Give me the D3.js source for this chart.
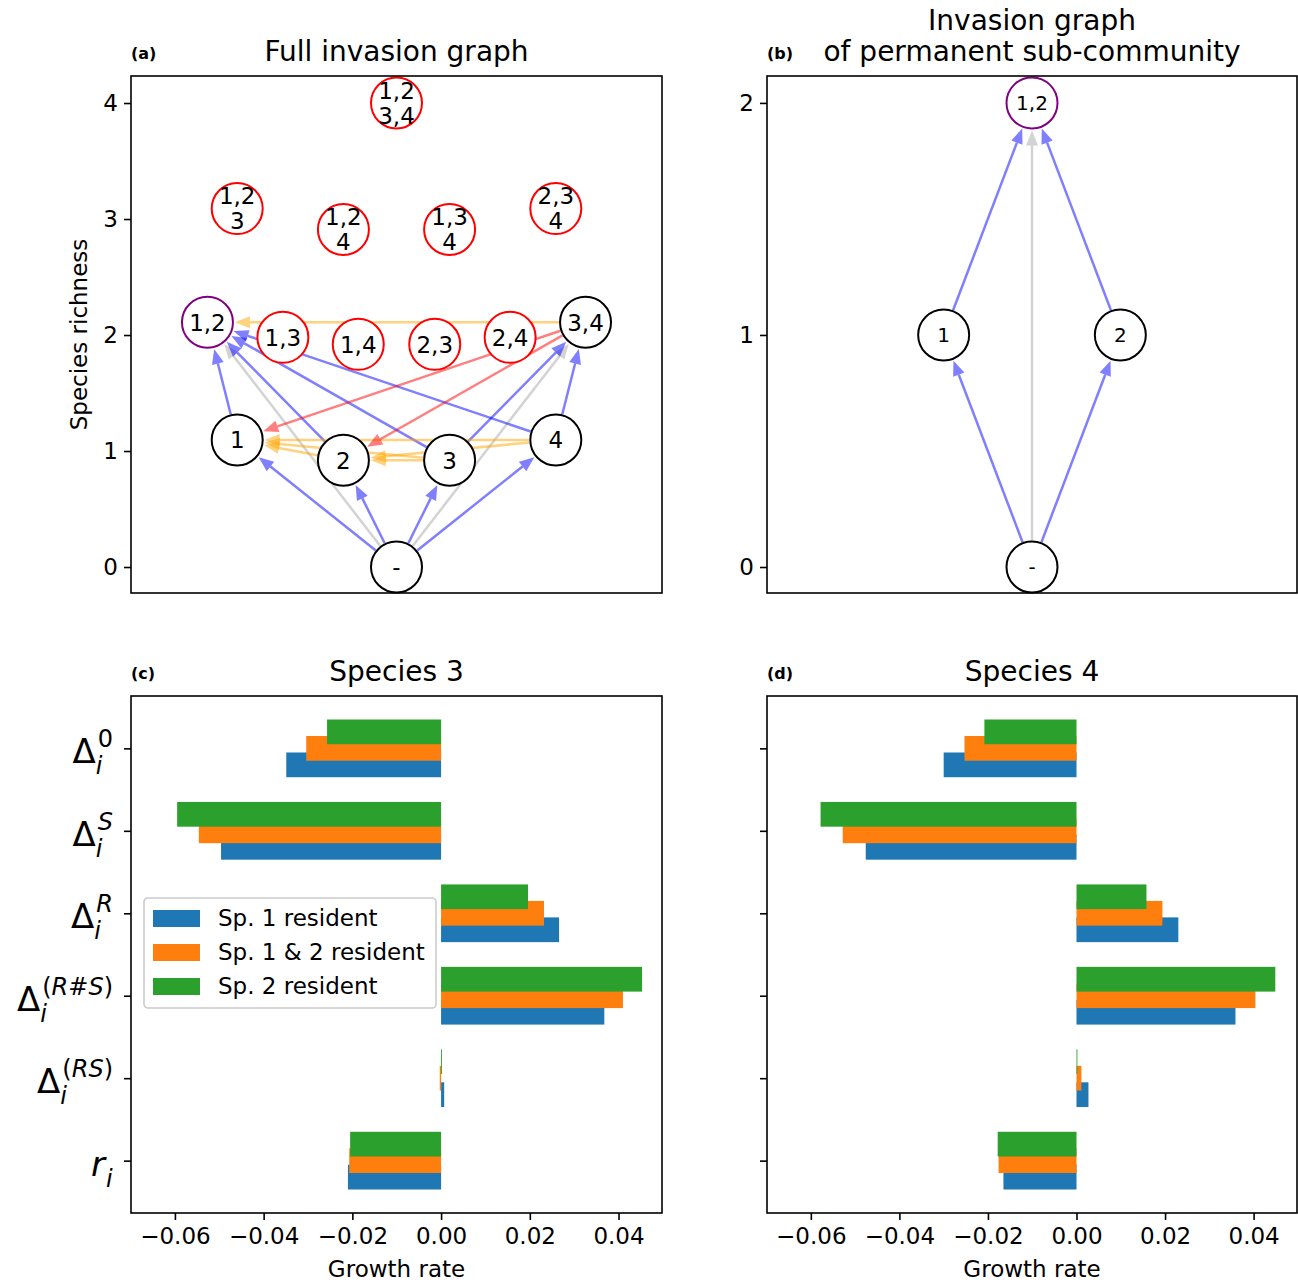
<!DOCTYPE html>
<html lang="en">
<head>
<meta charset="utf-8">
<title>Invasion graphs</title>
<script src="https://d3js.org/d3.v7.min.js"></script>
<style>
  body { margin: 0; background: #fff; }
  svg { display: block; font-family: "DejaVu Sans", sans-serif; }
</style>
</head>
<body>
<script>
'use strict';

// ---- panel (a): full invasion graph ----
var fullNodes = ["-", "1", "2", "3", "4", "12", "13", "14", "23", "24", "34", "123", "124", "134", "234", "1234"];
var fullLabels = ["-", "1", "2", "3", "4", "1,2", "1,3", "1,4", "2,3", "2,4", "3,4",
                  "1,2\n3", "1,2\n4", "1,3\n4", "2,3\n4", "1,2\n3,4"];
var fullLayoutX = [0, -1.5, -0.5, 0.5, 1.5, -1.78, -1.07, -0.36, 0.36, 1.07, 1.78, -1.5, -0.5, 0.5, 1.5, 0];
var fullRichness = [0, 1.095, 0.92, 0.92, 1.095, 2.11, 1.98, 1.92, 1.92, 1.98, 2.11, 3.09, 2.91, 2.91, 3.09, 4];
// c = reachable community, p = permanent, u = not feasible/unstable
var fullKind = ["c", "c", "c", "c", "c", "p", "u", "u", "u", "u", "c", "u", "u", "u", "u", "u"];

var fullEdgesGray = [["-", "12"], ["-", "34"]];
var fullEdgesBlue = [["-", "1"], ["-", "2"], ["-", "3"], ["-", "4"],
                     ["1", "12"], ["2", "12"], ["3", "12"], ["4", "12"],
                     ["3", "34"], ["4", "34"]];
var fullEdgesOrange = [["34", "12"], ["2", "1"], ["3", "1"], ["4", "1"], ["3", "2"], ["4", "2"]];
var fullEdgesRed = [["34", "1"], ["34", "2"]];

// ---- panel (b): permanent sub-community ----
var subNodes = ["-", "1", "2", "12"];
var subLabels = ["-", "1", "2", "1,2"];
var subLayoutX = [0, -0.5, 0.5, 0];
var subRichness = [0, 1, 1, 2];
var subKind = ["c", "c", "c", "p"];
var subEdgesGray = [["-", "12"]];
var subEdgesBlue = [["-", "1"], ["-", "2"], ["1", "12"], ["2", "12"]];

// ---- panels (c), (d): growth rate decomposition ----
var termBase = ["\u0394", "\u0394", "\u0394", "\u0394", "\u0394", "r"];
var termSup = ["0", "S", "R", "(R#S)", "(RS)", ""];
var seriesNames = ["Sp. 1 resident", "Sp. 1 & 2 resident", "Sp. 2 resident"];
var seriesColors = ["#1f77b4", "#ff7f0e", "#2ca02c"];

var sp3_res1 = [-0.0349, -0.0496, 0.0266, 0.0368, 0.0007, -0.0210];
var sp3_res12 = [-0.0304, -0.0546, 0.0232, 0.0410, -0.0003, -0.0207];
var sp3_res2 = [-0.0257, -0.0595, 0.0196, 0.0453, 0.0002, -0.0205];

var sp4_res1 = [-0.0300, -0.0476, 0.0230, 0.0359, 0.0027, -0.0165];
var sp4_res12 = [-0.0253, -0.0528, 0.0194, 0.0404, 0.0011, -0.0176];
var sp4_res2 = [-0.0208, -0.0578, 0.0158, 0.0449, 0.0002, -0.0178];

var growthTicks = [-0.06, -0.04, -0.02, 0, 0.02, 0.04];

var w = 1298, h = 1282;
var fs = 23;        // base font size
var svg = d3.select("body").append("svg").attr("width", w).attr("height", h);

var kindColor = {c: "black", p: "purple", u: "red"};
var edgeColor = {
    gray: "rgba(128,128,128,0.35)",
    blue: "rgba(0,0,255,0.5)",
    orange: "rgba(255,165,0,0.5)",
    red: "rgba(255,0,0,0.5)"
};

function styleAxis(g) {
    g.select(".domain").remove();
    g.selectAll(".tick line").attr("stroke", "black").attr("stroke-width", 1.6);
    g.selectAll(".tick text").attr("font-size", fs).attr("font-family", "DejaVu Sans").attr("fill", "black");
}

function frame(p) {
    svg.append("rect")
        .attr("x", p.x0).attr("y", p.y0)
        .attr("width", p.x1 - p.x0).attr("height", p.y1 - p.y0)
        .attr("fill", "none").attr("stroke", "black").attr("stroke-width", 1.6);
}

function titles(p, lines, tag) {
    var cx = (p.x0 + p.x1) / 2;
    lines.forEach(function(t, i) {
        svg.append("text")
            .attr("x", cx).attr("y", p.y0 - 15 - (lines.length - 1 - i) * 31)
            .attr("text-anchor", "middle").attr("font-size", 28)
            .text(t);
    });
    svg.append("text")
        .attr("x", p.x0).attr("y", p.y0 - 17)
        .attr("font-size", 16).attr("font-weight", "bold")
        .text(tag);
}

function drawGraph(p, ids, labels, lx, ry, kinds, edgeSets, xDom, yDom, ticks, nodeFs) {
    var x = d3.scaleLinear().domain(xDom).range([p.x0, p.x1]);
    var y = d3.scaleLinear().domain(yDom).range([p.y1, p.y0]);
    var r = 25.5;
    var pos = {};
    ids.forEach(function(id, i) { pos[id] = [x(lx[i]), y(ry[i])]; });

    var gEdges = svg.append("g");
    edgeSets.forEach(function(set) {
        var col = edgeColor[set.color];
        set.edges.forEach(function(e) {
            var s = pos[e[0]], t = pos[e[1]];
            var dx = t[0] - s[0], dy = t[1] - s[1];
            var len = Math.sqrt(dx * dx + dy * dy);
            var ux = dx / len, uy = dy / len;
            var headLen = 15, headW = 6;
            var sx = s[0] + ux * (r + 1), sy = s[1] + uy * (r + 1);
            var ex = t[0] - ux * (r + 2), ey = t[1] - uy * (r + 2);
            var bx = ex - ux * headLen, by = ey - uy * headLen;
            gEdges.append("line")
                .attr("x1", sx).attr("y1", sy).attr("x2", bx).attr("y2", by)
                .attr("stroke", col).attr("stroke-width", 2.5);
            gEdges.append("path")
                .attr("d", "M" + ex + "," + ey +
                    "L" + (bx - uy * headW) + "," + (by + ux * headW) +
                    "L" + (bx + uy * headW) + "," + (by - ux * headW) + "Z")
                .attr("fill", col);
        });
    });

    var gNodes = svg.append("g");
    ids.forEach(function(id, i) {
        var c = pos[id];
        gNodes.append("circle")
            .attr("cx", c[0]).attr("cy", c[1]).attr("r", r)
            .attr("fill", "white").attr("stroke", kindColor[kinds[i]]).attr("stroke-width", 2);
        var parts = labels[i].split("\n");
        parts.forEach(function(txt, k) {
            var off = (k - (parts.length - 1) / 2) * 25;
            gNodes.append("text")
                .attr("x", c[0]).attr("y", c[1] + off).attr("dy", "0.36em")
                .attr("text-anchor", "middle").attr("font-size", nodeFs)
                .text(txt);
        });
    });

    var ga = svg.append("g").attr("transform", "translate(" + p.x0 + ",0)")
        .call(d3.axisLeft(y).tickValues(ticks).tickFormat(d3.format("d")).tickSize(7).tickPadding(6));
    styleAxis(ga);
    frame(p);
}

function mathLabel(g, base, sup, yBase, right) {
    var grp = g.append("g");
    var tb = grp.append("text").attr("x", 0).attr("y", yBase)
        .attr("font-size", 34)
        .attr("font-style", base === "r" ? "italic" : "normal")
        .text(base);
    var wb = tb.node().getComputedTextLength();
    if (sup) {
        var ts = grp.append("text").attr("x", wb + 2).attr("y", yBase - 16).attr("font-size", 24);
        sup.split("").forEach(function(ch) {
            ts.append("tspan")
                .attr("font-style", /[A-Za-z]/.test(ch) ? "italic" : "normal")
                .text(ch);
        });
    }
    grp.append("text").attr("x", base === "r" ? wb + 1 : wb).attr("y", yBase + 11)
        .attr("font-size", 24).attr("font-style", "italic").text("i");
    var bb = grp.node().getBBox();
    grp.attr("transform", "translate(" + (right - (bb.x + bb.width)) + ",0)");
}

function drawBars(p, series, showLabels) {
    var x = d3.scaleLinear().domain([-0.0699, 0.0498]).range([p.x0, p.x1]);
    var y = d3.scaleLinear().domain([-0.635, 5.635]).range([p.y0, p.y1]);
    var offsets = [0.2, 0, -0.2];
    var barH = 0.3;
    series.forEach(function(vals, s) {
        svg.append("g").selectAll("rect")
            .data(vals)
            .enter()
            .append("rect")
            .attr("x", function(d) { return x(Math.min(0, d)); })
            .attr("y", function(d, i) { return y(i + offsets[s] - barH / 2); })
            .attr("width", function(d) { return Math.abs(x(d) - x(0)); })
            .attr("height", y(barH) - y(0))
            .attr("fill", seriesColors[s]);
    });

    var gx = svg.append("g").attr("transform", "translate(0," + p.y1 + ")")
        .call(d3.axisBottom(x).tickValues(growthTicks).tickFormat(d3.format(".2f")).tickSize(7).tickPadding(8));
    styleAxis(gx);
    svg.append("text")
        .attr("x", (p.x0 + p.x1) / 2).attr("y", p.y1 + 64)
        .attr("text-anchor", "middle").attr("font-size", fs)
        .text("Growth rate");

    var gy = svg.append("g").attr("transform", "translate(" + p.x0 + ",0)")
        .call(d3.axisLeft(y).tickValues(d3.range(termBase.length)).tickFormat("").tickSize(7));
    styleAxis(gy);
    if (showLabels) {
        var gl = svg.append("g");
        termBase.forEach(function(b, i) {
            mathLabel(gl, b, termSup[i], y(i) + 15, p.x0 - 18);
        });
    }
    frame(p);
}

var panelA = {x0: 131, x1: 662, y0: 76, y1: 593};
var panelB = {x0: 767, x1: 1297, y0: 76, y1: 593};
var panelC = {x0: 131, x1: 662, y0: 696, y1: 1213};
var panelD = {x0: 767, x1: 1297, y0: 696, y1: 1213};

drawGraph(panelA, fullNodes, fullLabels, fullLayoutX, fullRichness, fullKind, [
    {color: "gray", edges: fullEdgesGray},
    {color: "blue", edges: fullEdgesBlue},
    {color: "orange", edges: fullEdgesOrange},
    {color: "red", edges: fullEdgesRed}
], [-2.5, 2.5], [-0.224, 4.233], [0, 1, 2, 3, 4], 23);

drawGraph(panelB, subNodes, subLabels, subLayoutX, subRichness, subKind, [
    {color: "gray", edges: subEdgesGray},
    {color: "blue", edges: subEdgesBlue}
], [-1.5, 1.5], [-0.112, 2.116], [0, 1, 2], 20);

svg.append("text")
    .attr("transform", "translate(87," + (panelA.y0 + panelA.y1) / 2 + ") rotate(-90)")
    .attr("text-anchor", "middle").attr("font-size", fs)
    .text("Species richness");

titles(panelA, ["Full invasion graph"], "(a)");
titles(panelB, ["Invasion graph", "of permanent sub-community"], "(b)");

drawBars(panelC, [sp3_res1, sp3_res12, sp3_res2], true);
drawBars(panelD, [sp4_res1, sp4_res12, sp4_res2], false);
titles(panelC, ["Species 3"], "(c)");
titles(panelD, ["Species 4"], "(d)");

// legend in panel (c)
var leg = svg.append("g").attr("transform", "translate(144,898)");
leg.append("rect")
    .attr("width", 292).attr("height", 110).attr("rx", 4)
    .attr("fill", "white").attr("fill-opacity", 0.8)
    .attr("stroke", "#cccccc").attr("stroke-width", 1.6);
seriesNames.forEach(function(name, i) {
    leg.append("rect")
        .attr("x", 9).attr("y", 12 + i * 34)
        .attr("width", 47).attr("height", 17)
        .attr("fill", seriesColors[i]);
    leg.append("text")
        .attr("x", 74).attr("y", 28 + i * 34)
        .attr("font-size", fs)
        .text(name);
});
</script>
</body>
</html>
